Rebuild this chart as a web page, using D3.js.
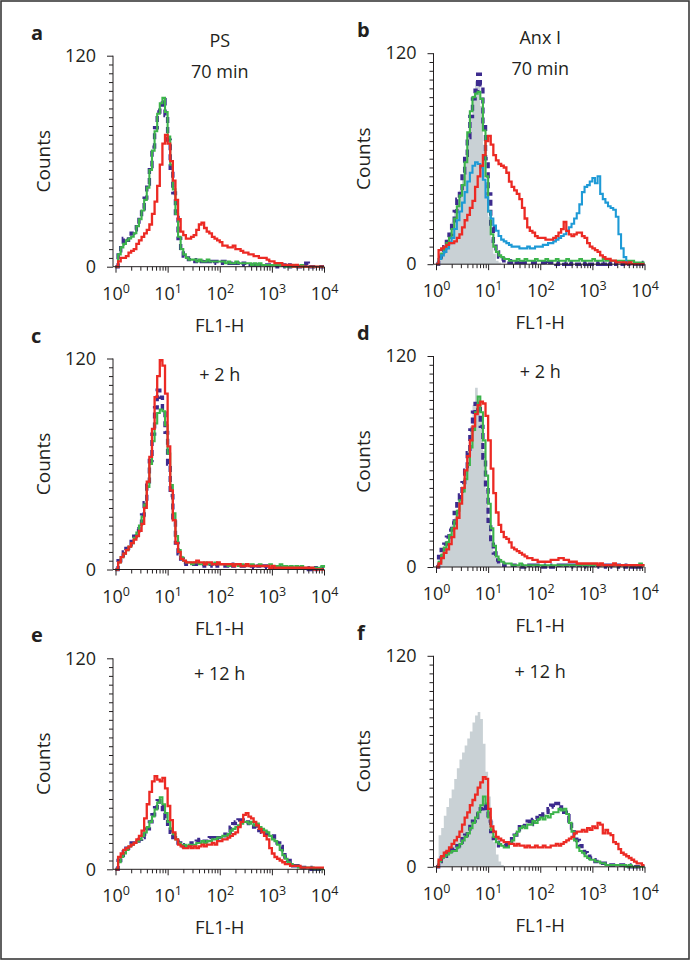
<!DOCTYPE html>
<html>
<head>
<meta charset="utf-8">
<script src="https://cdn.jsdelivr.net/npm/d3@7"></script>
<style>
  body { margin: 0; background: #fff; }
  text { font-family: "Open Sans", "DejaVu Sans", sans-serif; fill: #231f20; }
</style>
</head>
<body>
<script>
// channel positions (log10 of FL1-H), one value per bin
const bins = d3.range(0, 81).map(i => i * 0.05);

// counts per bin
const aPurple = [0, 9, 13, 16, 15, 17, 19, 21, 24, 28,
  33, 39, 47, 57, 68, 79, 88, 92, 95, 86,
  72, 56, 42, 28, 16, 9, 6, 5, 4, 3,
  3, 4, 3, 3, 4, 3, 3, 2, 3, 3,
  2, 3, 2, 2, 2, 3, 2, 2, 1, 2,
  2, 1, 1, 2, 1, 1, 1, 1, 1, 1,
  1, 1, 0, 1, 1, 0, 1, 0, 0, 0,
  0, 0, 0, 2, 1, 0, 0, 0, 0, 0, 0];
const aGreen = [0, 7, 11, 13, 15, 16, 17, 19, 23, 27,
  32, 38, 45, 55, 66, 77, 87, 93, 96, 88,
  74, 58, 44, 30, 17, 10, 7, 5, 4, 4,
  4, 3, 4, 3, 3, 4, 3, 3, 3, 3,
  3, 3, 2, 3, 2, 2, 3, 2, 2, 2,
  2, 2, 1, 2, 1, 2, 1, 1, 1, 1,
  1, 1, 1, 1, 1, 0, 1, 0, 1, 0,
  0, 1, 0, 0, 0, 0, 0, 0, 0, 0, 0];
const aRed = [0, 3, 5, 5, 6, 8, 9, 10, 13, 15,
  17, 19, 21, 24, 30, 37, 46, 58, 70, 75,
  70, 60, 49, 38, 27, 20, 18, 16, 16, 17,
  18, 21, 24, 25, 22, 20, 19, 17, 16, 15,
  14, 12, 12, 11, 11, 12, 10, 10, 9, 8,
  8, 7, 7, 6, 6, 5, 5, 5, 4, 3,
  3, 2, 2, 2, 1, 1, 1, 1, 0, 1,
  0, 0, 0, 0, 0, 0, 0, 0, 0, 0, 0];

const bGray = [0, 3, 6, 10, 14, 18, 24, 29, 35, 42,
  50, 60, 72, 85, 96, 104, 102, 90, 68, 45,
  27, 14, 6, 2, 1, 0, 0, 0, 0, 0,
  0, 0, 0, 0, 0, 0, 0, 0, 0, 0,
  0, 0, 0, 0, 0, 0, 0, 0, 0, 0,
  0, 0, 0, 0, 0, 0, 0, 0, 0, 0,
  0, 0, 0, 0, 0, 0, 0, 0, 0, 0,
  0, 0, 0, 0, 0, 0, 0, 0, 0, 0, 0];
const bPurple = [0, 4, 7, 10, 13, 17, 23, 30, 37, 43,
  52, 62, 72, 84, 94, 99, 108, 102, 80, 60,
  40, 21, 12, 7, 4, 3, 2, 2, 1, 2,
  1, 1, 2, 1, 1, 1, 1, 1, 1, 1,
  1, 1, 0, 1, 1, 1, 0, 1, 1, 0,
  1, 0, 1, 1, 0, 1, 1, 0, 1, 0,
  1, 1, 0, 1, 0, 1, 0, 1, 0, 1,
  0, 0, 1, 0, 1, 0, 0, 0, 1, 0, 0];
const bGreen = [0, 3, 6, 9, 12, 15, 20, 26, 33, 39,
  45, 58, 75, 87, 95, 97, 98, 94, 76, 50,
  30, 17, 10, 7, 5, 4, 3, 3, 2, 2,
  2, 3, 2, 2, 3, 2, 2, 2, 3, 2,
  2, 2, 3, 2, 2, 2, 3, 2, 2, 2,
  3, 2, 2, 2, 2, 3, 2, 2, 2, 2,
  3, 2, 2, 2, 3, 2, 2, 2, 2, 2,
  2, 2, 2, 2, 2, 2, 1, 1, 1, 1, 1];
const bBlue = [0, 3, 5, 7, 9, 12, 15, 20, 25, 30,
  35, 41, 47, 52, 56, 58, 57, 55, 48, 38,
  30, 26, 22, 19, 16, 14, 13, 12, 11, 10,
  10, 10, 9, 9, 9, 10, 9, 9, 10, 10,
  10, 11, 11, 12, 12, 13, 14, 15, 16, 17,
  19, 21, 23, 26, 29, 34, 41, 44, 45, 47,
  49, 46, 50, 40, 37, 35, 33, 32, 31, 27,
  17, 9, 4, 1, 0, 0, 0, 0, 0, 0, 0];
const bRed = [0, 8, 9, 10, 11, 12, 12, 13, 15, 17,
  21, 25, 28, 32, 36, 44, 50, 56, 62, 70,
  73, 68, 62, 59, 57, 56, 55, 52, 47, 44,
  42, 40, 37, 32, 26, 21, 19, 18, 16, 15,
  15, 15, 14, 14, 14, 15, 16, 18, 20, 24,
  19, 17, 16, 17, 18, 18, 16, 15, 12, 10,
  9, 8, 7, 5, 4, 3, 3, 2, 2, 1,
  1, 1, 1, 0, 1, 0, 0, 0, 0, 0, 0];

const cPurple = [0, 5, 8, 10, 12, 14, 16, 19, 22, 26,
  31, 38, 48, 62, 77, 92, 102, 98, 90, 78,
  60, 42, 27, 15, 9, 6, 4, 3, 3, 3,
  3, 3, 3, 3, 2, 3, 3, 2, 3, 2,
  2, 2, 2, 2, 3, 2, 2, 2, 2, 2,
  2, 2, 2, 1, 2, 2, 1, 2, 1, 1,
  1, 1, 2, 1, 1, 1, 1, 1, 1, 1,
  1, 1, 1, 1, 0, 1, 1, 0, 1, 1, 1];
const cGreen = [0, 4, 7, 9, 11, 13, 15, 18, 21, 25,
  30, 37, 47, 60, 73, 83, 89, 91, 90, 82,
  66, 48, 32, 19, 11, 7, 5, 4, 4, 3,
  4, 4, 3, 3, 4, 3, 3, 3, 4, 3,
  3, 3, 3, 2, 3, 3, 3, 2, 3, 2,
  3, 2, 3, 2, 2, 3, 2, 2, 2, 3,
  2, 2, 2, 3, 2, 2, 1, 2, 1, 2,
  1, 2, 1, 1, 1, 1, 1, 1, 1, 2, 1];
const cRed = [0, 4, 7, 9, 11, 13, 15, 17, 19, 22,
  26, 35, 50, 64, 80, 98, 110, 119, 116, 100,
  70, 45, 28, 15, 10, 6, 5, 4, 4, 4,
  4, 5, 4, 4, 3, 4, 4, 3, 3, 4,
  3, 3, 3, 3, 3, 2, 3, 3, 2, 2,
  3, 2, 2, 2, 2, 2, 2, 2, 2, 1,
  2, 1, 1, 1, 1, 1, 1, 1, 1, 1,
  1, 1, 1, 1, 1, 1, 0, 0, 0, 0, 0];

const dGray = [0, 5, 8, 11, 15, 19, 24, 28, 33, 38,
  45, 52, 66, 80, 92, 102, 97, 84, 66, 44,
  27, 15, 8, 4, 2, 0, 0, 0, 0, 0,
  0, 0, 0, 0, 0, 0, 0, 0, 0, 0,
  0, 0, 0, 0, 0, 0, 0, 0, 0, 0,
  0, 0, 0, 0, 0, 0, 0, 0, 0, 0,
  0, 0, 0, 0, 0, 0, 0, 0, 0, 0,
  0, 0, 0, 0, 0, 0, 0, 0, 0, 0, 0];
const dPurple = [0, 6, 10, 13, 17, 21, 25, 31, 36, 41,
  48, 55, 65, 78, 88, 93, 90, 80, 62, 44,
  26, 14, 8, 4, 3, 2, 1, 1, 1, 1,
  1, 1, 1, 0, 1, 1, 1, 0, 1, 1,
  1, 0, 1, 1, 0, 1, 1, 1, 0, 1,
  1, 0, 1, 0, 1, 1, 0, 1, 0, 1,
  1, 0, 1, 0, 0, 1, 0, 1, 0, 0,
  1, 0, 0, 1, 0, 0, 1, 0, 0, 0, 0];
const dGreen = [0, 3, 7, 11, 14, 18, 22, 26, 32, 38,
  43, 50, 58, 68, 78, 88, 97, 88, 72, 52,
  36, 22, 12, 6, 4, 3, 2, 2, 2, 1,
  1, 1, 2, 1, 1, 1, 1, 1, 1, 1,
  1, 1, 1, 1, 1, 1, 1, 1, 1, 1,
  1, 1, 1, 1, 1, 1, 1, 1, 1, 1,
  1, 1, 1, 1, 1, 1, 1, 1, 1, 1,
  1, 1, 1, 1, 1, 1, 1, 1, 2, 1, 1];
const dRed = [0, 2, 5, 8, 10, 13, 17, 22, 28, 36,
  45, 55, 63, 72, 80, 87, 92, 94, 93, 86,
  72, 56, 42, 31, 24, 20, 17, 16, 14, 11,
  10, 9, 8, 7, 6, 5, 5, 4, 4, 3,
  3, 3, 3, 3, 4, 4, 4, 5, 5, 4,
  4, 3, 3, 3, 2, 2, 2, 2, 2, 2,
  2, 2, 1, 2, 1, 1, 1, 1, 2, 1,
  1, 1, 1, 1, 1, 1, 1, 1, 1, 1, 1];

const ePurple = [0, 5, 8, 10, 12, 14, 15, 15, 16, 17,
  18, 20, 23, 27, 31, 35, 39, 36, 33, 29,
  24, 21, 18, 16, 15, 14, 13, 14, 14, 15,
  15, 16, 17, 17, 16, 17, 18, 18, 17, 18,
  19, 19, 20, 21, 24, 26, 27, 28, 28, 27,
  27, 26, 25, 24, 23, 22, 21, 21, 20, 20,
  19, 17, 15, 13, 10, 7, 5, 3, 2, 2,
  1, 1, 1, 1, 1, 0, 1, 0, 0, 0, 0];
const eGreen = [0, 4, 7, 9, 11, 13, 14, 15, 16, 17,
  19, 21, 24, 27, 30, 34, 38, 41, 37, 32,
  27, 23, 20, 17, 15, 14, 14, 13, 14, 14,
  14, 15, 15, 16, 15, 16, 16, 17, 17, 18,
  18, 19, 19, 20, 22, 23, 24, 25, 26, 27,
  27, 26, 27, 25, 26, 24, 23, 22, 21, 19,
  17, 16, 14, 11, 8, 6, 4, 3, 2, 2,
  1, 1, 1, 1, 1, 1, 0, 0, 0, 0, 0];
const eRed = [0, 7, 9, 11, 12, 13, 14, 15, 17, 19,
  22, 29, 37, 44, 50, 53, 51, 50, 52, 46,
  36, 28, 21, 17, 14, 13, 12, 12, 13, 12,
  13, 12, 13, 14, 13, 14, 14, 15, 14, 16,
  16, 17, 17, 18, 19, 20, 21, 24, 27, 31,
  32, 30, 29, 27, 25, 23, 21, 19, 17, 12,
  9, 7, 6, 5, 4, 3, 3, 2, 2, 2,
  2, 1, 1, 1, 1, 1, 1, 1, 1, 1, 1];

const fGray = [0, 18, 22, 29, 34, 39, 44, 50, 56, 61,
  65, 69, 73, 77, 82, 86, 88, 84, 70, 54,
  40, 26, 14, 7, 3, 1, 0, 0, 0, 0,
  0, 0, 0, 0, 0, 0, 0, 0, 0, 0,
  0, 0, 0, 0, 0, 0, 0, 0, 0, 0,
  0, 0, 0, 0, 0, 0, 0, 0, 0, 0,
  0, 0, 0, 0, 0, 0, 0, 0, 0, 0,
  0, 0, 0, 0, 0, 0, 0, 0, 0, 0, 0];
const fPurple = [0, 3, 5, 6, 8, 9, 10, 11, 12, 14,
  16, 18, 20, 23, 26, 28, 30, 33, 35, 32,
  26, 20, 16, 14, 12, 12, 12, 13, 14, 16,
  18, 21, 24, 23, 25, 26, 24, 27, 28, 27,
  29, 30, 31, 33, 35, 34, 36, 33, 34, 31,
  29, 26, 22, 18, 15, 12, 10, 8, 6, 5,
  4, 3, 3, 2, 2, 2, 1, 1, 1, 1,
  1, 1, 1, 1, 0, 1, 0, 0, 0, 0, 0];
const fGreen = [0, 3, 5, 6, 7, 8, 9, 9, 11, 13,
  15, 17, 19, 22, 25, 28, 31, 35, 40, 36,
  28, 21, 17, 14, 13, 12, 11, 11, 13, 15,
  18, 20, 22, 23, 22, 24, 24, 26, 25, 27,
  28, 27, 29, 28, 30, 31, 31, 33, 32, 33,
  30, 25, 20, 15, 11, 9, 8, 6, 5, 4,
  4, 3, 3, 2, 2, 1, 1, 1, 1, 1,
  1, 1, 1, 0, 1, 0, 0, 0, 0, 0, 0];
const fRed = [0, 4, 6, 8, 9, 11, 13, 15, 17, 20,
  24, 28, 31, 35, 38, 41, 45, 48, 51, 50,
  33, 23, 20, 17, 16, 15, 14, 14, 13, 13,
  12, 13, 12, 12, 11, 12, 11, 11, 12, 11,
  11, 12, 11, 11, 12, 12, 13, 12, 13, 14,
  15, 16, 17, 19, 20, 20, 21, 20, 22, 21,
  23, 22, 25, 24, 19, 21, 19, 18, 14, 13,
  10, 8, 7, 6, 5, 4, 3, 2, 2, 1, 1];

const panelLetters = ["a", "b", "c", "d", "e", "f"];
const titles = ["PS", "Anx I", "", "", "", ""];
const subtitles = ["70 min", "70 min", "+ 2 h", "+ 2 h", "+ 12 h", "+ 12 h"];
const yTickLabels = [0, 120];
const xDecades = [1, 10, 100, 1000, 10000];

const colors = { gray: "#c9d1d5", purple: "#3d2b8e", green: "#3cb44b", blue: "#1e9ad6", red: "#ec2a24" };

// fill + line series per panel
const panelSeries = [
  { fill: null,  lines: [["purple", aPurple], ["green", aGreen], ["red", aRed]] },
  { fill: bGray, lines: [["purple", bPurple], ["green", bGreen], ["blue", bBlue], ["red", bRed]] },
  { fill: null,  lines: [["purple", cPurple], ["green", cGreen], ["red", cRed]] },
  { fill: dGray, lines: [["purple", dPurple], ["green", dGreen], ["red", dRed]] },
  { fill: null,  lines: [["purple", ePurple], ["green", eGreen], ["red", eRed]] },
  { fill: fGray, lines: [["purple", fPurple], ["green", fGreen], ["red", fRed]] }
];

const width = 691, height = 961;
const colX = [115.5, 436];          // pixel of 10^0
const plotW = 208.5, plotH = 211;
const rowTop = [55.7, 358.5, 658.3];
const colShift = [0, -2.5];

const svg = d3.select("body").append("svg")
  .attr("width", width)
  .attr("height", height);

svg.append("rect")
  .attr("x", 1).attr("y", 1)
  .attr("width", 688).attr("height", 958)
  .attr("fill", "#fff")
  .attr("stroke", "#3a3a3a")
  .attr("stroke-width", 1.6);

panelSeries.forEach((p, idx) => {
  const col = idx % 2, row = Math.floor(idx / 2);
  const x0 = colX[col];
  const top = rowTop[row] + colShift[col];
  const y0 = top + plotH;
  const axisX = x0 - 2.5;

  const x = d3.scaleLog().domain([1, 10000]).range([x0, x0 + plotW]);
  const y = d3.scaleLinear().domain([0, 120]).range([y0, top]);

  const g = svg.append("g");

  // histograms
  if (p.fill) {
    const area = d3.area()
      .x((d, i) => x(Math.pow(10, bins[i])))
      .y0(y(0))
      .y1(d => y(d))
      .curve(d3.curveStepAfter);
    g.append("path").datum(p.fill)
      .attr("d", area)
      .attr("fill", colors.gray);
  }

  const line = d3.line()
    .x((d, i) => x(Math.pow(10, bins[i])))
    .y(d => y(d))
    .curve(d3.curveStepAfter);

  // purple peeks out in segments under the green
  const order = ["purple", "green", "blue", "red"];
  order.forEach(name => {
    p.lines.filter(s => s[0] === name).forEach(s => {
      g.append("path").datum(s[1])
        .attr("d", line)
        .attr("fill", "none")
        .attr("stroke", colors[name])
        .attr("stroke-width", name === "purple" ? 3.4 : name === "red" ? 2.3 : 2.1)
        .attr("stroke-dasharray", name === "purple" ? "6,4" : null);
    });
  });

  // y axis
  const yMinor = g.append("g")
    .attr("transform", `translate(${axisX},0)`)
    .call(d3.axisLeft(y).tickValues(d3.range(5, 120, 5)).tickSize(4).tickSizeOuter(0).tickFormat(""));
  const yMajor = g.append("g")
    .attr("transform", `translate(${axisX},0)`)
    .call(d3.axisLeft(y).tickValues(yTickLabels).tickSize(6).tickSizeOuter(0).tickPadding(11));
  yMinor.select(".domain").remove();
  yMajor.select(".domain").attr("d", `M0,${y(0)}V${y(120)}`);
  yMajor.selectAll("text").style("font-size", "18px").attr("fill", "#231f20");

  // x axis
  const minors = [];
  xDecades.slice(0, 4).forEach(d => { for (let k = 2; k < 10; k++) minors.push(d * k); });
  const xMinor = g.append("g")
    .attr("transform", `translate(0,${y0})`)
    .call(d3.axisBottom(x).tickValues(minors).tickSize(4).tickSizeOuter(0).tickFormat(""));
  xMinor.select(".domain").remove();
  const xMajor = g.append("g")
    .attr("transform", `translate(0,${y0})`)
    .call(d3.axisBottom(x).tickValues(xDecades).tickSize(6).tickSizeOuter(0).tickFormat(""));
  xMajor.select(".domain").attr("d", `M${axisX},0H${x(10000)}`);
  xMajor.selectAll(".tick text").remove();
  xMajor.selectAll(".tick").append("text")
    .attr("y", 33)
    .attr("text-anchor", "middle")
    .style("font-size", "18px")
    .each(function(d) {
      const t = d3.select(this);
      t.append("tspan").text("10");
      t.append("tspan").attr("dy", -7).style("font-size", "12.5px").text(Math.round(Math.log10(d)));
    });

  [yMinor, yMajor, xMinor, xMajor].forEach(a => {
    a.selectAll("line").attr("stroke", "#231f20");
    a.selectAll(".domain").attr("stroke", "#231f20");
  });

  const cx = x0 + plotW / 2;

  g.append("text")
    .attr("x", col === 0 ? 31 : 357)
    .attr("y", top - 16)
    .style("font-size", "20px")
    .style("font-weight", "bold")
    .text(panelLetters[idx]);

  if (titles[idx]) {
    g.append("text")
      .attr("x", cx).attr("y", top - 9)
      .attr("text-anchor", "middle")
      .style("font-size", "18px")
      .text(titles[idx]);
  }
  g.append("text")
    .attr("x", cx).attr("y", top + 22)
    .attr("text-anchor", "middle")
    .style("font-size", "18px")
    .text(subtitles[idx]);

  g.append("text")
    .attr("transform", `translate(${x0 - 66},${top + plotH / 2}) rotate(-90)`)
    .attr("text-anchor", "middle")
    .style("font-size", "19px")
    .text("Counts");

  g.append("text")
    .attr("x", cx).attr("y", y0 + 65)
    .attr("text-anchor", "middle")
    .style("font-size", "18.5px")
    .text("FL1-H");
});
</script>
</body>
</html>
